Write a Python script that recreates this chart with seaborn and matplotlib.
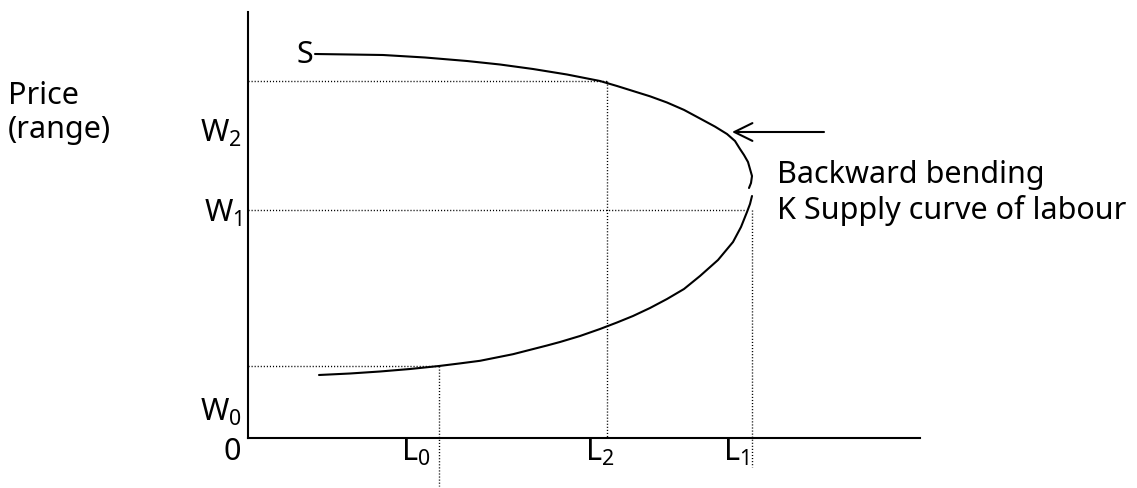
import numpy as np
import seaborn as sns
import matplotlib.pyplot as plt

# curva de oferta de trabalho (L = trabalho, W = salário)
ramo_sup_L = [6.7, 10.2, 13.5, 17.7, 21.9, 25.2, 28.5, 31.9, 35.2, 36.9, 38.5,
              40.2, 41.9, 43.6, 45.2, 46.7, 47.9, 48.7, 49.2, 49.6, 50.0, 50.2,
              50.4, 50.3, 50.1]
ramo_sup_W = [38.4, 38.35, 38.3, 38.05, 37.7, 37.35, 36.9, 36.35, 35.7, 35.2,
              34.7, 34.17, 33.55, 32.81, 31.95, 31.14, 30.4, 29.7, 28.9, 28.3,
              27.6, 26.9, 26.2, 25.5, 25.0]

ramo_inf_L = [50.4, 50.2, 49.9, 49.3, 48.5, 47.0, 45.2, 43.6, 41.9, 40.2, 38.5,
              36.9, 35.2, 33.2, 31.2, 29.9, 26.5, 23.2, 21.2, 19.1, 16.2, 13.2,
              10.2, 7.1]
ramo_inf_W = [24.2, 23.4, 22.6, 21.1, 19.6, 17.8, 16.2, 14.9, 13.9, 13.0, 12.2,
              11.55, 10.9, 10.2, 9.6, 9.25, 8.38, 7.72, 7.46, 7.2, 6.9, 6.65,
              6.45, 6.3]

# níveis de referência (linhas pontilhadas)
nivel_W0, nivel_W1, nivel_topo = 7.2, 22.8, 35.7
L0, L2, L1 = 19.1, 35.9, 50.4

rotulos_y = ['W$_0$', 'W$_1$', 'W$_2$']
rotulos_x = ['L$_0$', 'L$_2$', 'L$_1$']

sns.set_style('white')
plt.rcParams['font.family'] = ['Noto Sans', 'DejaVu Sans']
plt.rcParams['text.color'] = 'black'
plt.rcParams['mathtext.fontset'] = 'custom'
plt.rcParams['mathtext.rm'] = 'Noto Sans'
plt.rcParams['mathtext.default'] = 'regular'

fig = plt.figure(figsize=(11.37, 4.89), dpi=100)
ax = fig.add_axes([248 / 1137, 50 / 489, 672 / 1137, 426 / 489])
ax.set_xlim(0, 67.2)
ax.set_ylim(0, 42.6)
for lado in ['top', 'right']:
    ax.spines[lado].set_visible(False)
for lado in ['left', 'bottom']:
    ax.spines[lado].set_color('black')
    ax.spines[lado].set_linewidth(1.5)
ax.set_xticks([])
ax.set_yticks([])

sns.lineplot(x=ramo_sup_L, y=ramo_sup_W, sort=False, estimator=None,
             color='black', linewidth=1.5, ax=ax)
sns.lineplot(x=ramo_inf_L, y=ramo_inf_W, sort=False, estimator=None,
             color='black', linewidth=1.5, ax=ax)

pont = dict(color='black', linewidth=1.0, linestyle=(0, (0.8, 1.4)), clip_on=False)
ax.plot([0, L0], [nivel_W0, nivel_W0], **pont)
ax.plot([L0, L0], [nivel_W0, -4.8], **pont)
ax.plot([0, L2], [nivel_topo, nivel_topo], **pont)
ax.plot([L2, L2], [nivel_topo, 0], **pont)
ax.plot([0, 49.8], [nivel_W1, nivel_W1], **pont)
ax.plot([L1, L1], [nivel_W1, -2.9], **pont)

fs = 22
for txt, y in zip(rotulos_y, [2.7, 22.6, 30.6]):
    ax.text(-0.6, y, txt, ha='right', va='center', fontsize=fs, clip_on=False)
for txt, x in zip(rotulos_x, [16.8, 35.2, 48.8]):
    ax.text(x, -1.3, txt, ha='center', va='center', fontsize=fs, clip_on=False)
ax.text(-1.6, -1.3, '0', ha='center', va='center', fontsize=fs, clip_on=False)
ax.text(6.5, 38.4, 'S', ha='right', va='center', fontsize=fs, clip_on=False)

ax.text(-24.0, 34.3, 'Price', ha='left', va='center', fontsize=fs, clip_on=False)
ax.text(-24.0, 30.9, '(range)', ha='left', va='center', fontsize=fs, clip_on=False)
ax.text(52.9, 26.4, 'Backward bending', ha='left', va='center', fontsize=fs,
        clip_on=False)
ax.text(52.9, 22.9, 'K Supply curve of labour', ha='left', va='center',
        fontsize=fs, clip_on=False)

ax.annotate('', xy=(48.4, 30.6), xytext=(57.6, 30.6), annotation_clip=False,
            arrowprops=dict(arrowstyle='->,head_length=0.65,head_width=0.32',
                            mutation_scale=20, color='black', linewidth=1.5,
                            shrinkA=0, shrinkB=0))

fig.savefig('out.png', dpi=100)
